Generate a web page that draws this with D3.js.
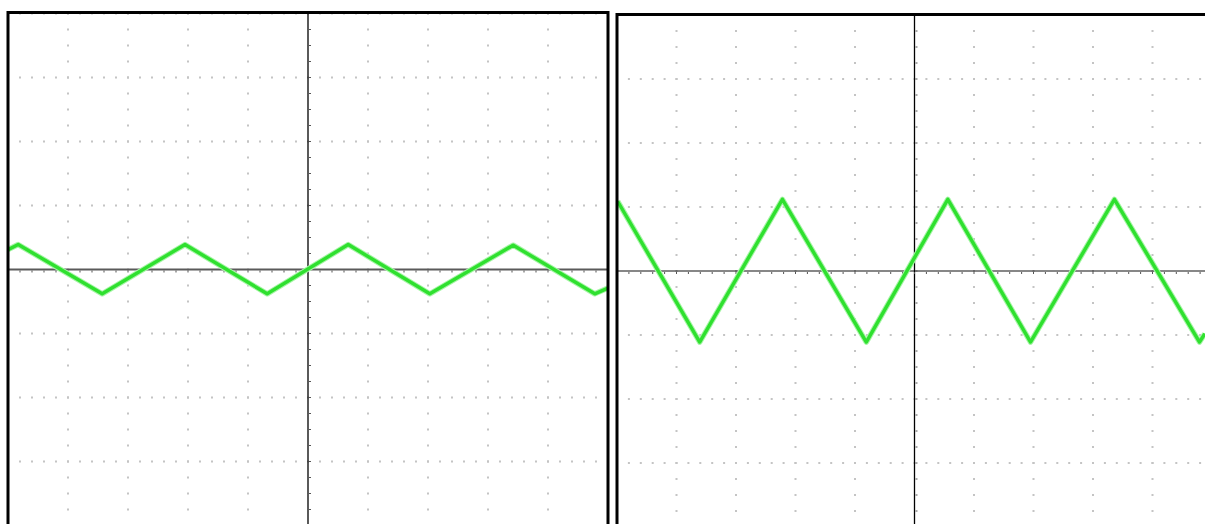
<!DOCTYPE html>
<html>
<head>
<meta charset="utf-8">
<script src="https://cdn.jsdelivr.net/npm/d3@7"></script>
<style>
  html, body { margin: 0; padding: 0; background: #fff; }
  svg { display: block; }
</style>
</head>
<body>
<div id="scope"></div>
<script>
// waveform vertices (time in divisions, amplitude in divisions)
const leftTime = [-5.0, -4.83, -3.43, -2.05, -0.68, 0.67, 2.03, 3.42, 4.78, 5.0];
const leftVolt = [0.31, 0.39, -0.38, 0.39, -0.38, 0.39, -0.38, 0.38, -0.38, -0.29];
const rightTime = [-4.99, -3.61, -2.22, -0.81, 0.56, 1.95, 3.36, 4.79, 4.88];
const rightVolt = [1.09, -1.11, 1.12, -1.11, 1.12, -1.11, 1.12, -1.11, -0.98];

// screen layout
const xDivs = [-5, -4, -3, -2, -1, 0, 1, 2, 3, 4, 5];
const yDivs = [-4, -3, -2, -1, 0, 1, 2, 3, 4];
const xMinor = 5;
const yMinor = 4;

const W = 1205, H = 524;
const svg = d3.select('#scope').append('svg').attr('width', W).attr('height', H);

const panels = [
  { id: 'a', x0: 8, x1: 608, yMid: 269.5, top: 12.5, time: leftTime, volt: leftVolt, axisColor: '#5a5a5a', axisW: 2 },
  { id: 'b', x0: 617, x1: 1212, yMid: 271, top: 14.5, time: rightTime, volt: rightVolt, axisColor: '#111', axisW: 1.2 }
];

panels.forEach(p => {
  const x = d3.scaleLinear().domain([-5, 5]).range([p.x0, p.x1]);
  const y = d3.scaleLinear().domain([-4, 4]).range([p.yMid + 256, p.yMid - 256]);
  const g = svg.append('g').attr('class', 'panel-' + p.id);

  g.append('clipPath').attr('id', 'clip-' + p.id)
    .append('rect')
    .attr('x', p.x0).attr('y', p.top)
    .attr('width', p.x1 - p.x0).attr('height', H - p.top + 20);

  const grid = g.append('g').attr('class', 'grid').attr('clip-path', `url(#clip-${p.id})`);

  // dotted horizontal rows
  const xFine = d3.range(-5, 5.001, 1 / xMinor);
  yDivs.filter(v => v !== 0).forEach(v => {
    grid.selectAll(null).data(xFine).enter().append('rect')
      .attr('x', d => x(d) - 1).attr('y', y(v) - 1)
      .attr('width', 2).attr('height', 2)
      .attr('fill', '#c4c4c4');
  });
  // dotted vertical columns
  const yFine = d3.range(-4, 4.001, 1 / yMinor);
  xDivs.filter(v => v !== 0).forEach(v => {
    grid.selectAll(null).data(yFine).enter().append('rect')
      .attr('x', x(v) - 1).attr('y', d => y(d) - 1)
      .attr('width', 2).attr('height', 2)
      .attr('fill', '#c4c4c4');
  });

  // centre axes with minor ticks
  grid.append('line')
    .attr('x1', p.x0).attr('x2', p.x1)
    .attr('y1', y(0)).attr('y2', y(0))
    .attr('stroke', p.axisColor).attr('stroke-width', p.axisW);
  grid.append('line')
    .attr('x1', x(0)).attr('x2', x(0))
    .attr('y1', p.top).attr('y2', H + 10)
    .attr('stroke', '#000').attr('stroke-width', 1.3);
  grid.selectAll('.xt').data(xFine).enter().append('rect')
    .attr('x', d => x(d) - 0.5).attr('y', y(0) + 1)
    .attr('width', 1).attr('height', 2).attr('fill', '#555');
  grid.selectAll('.yt').data(yFine).enter().append('rect')
    .attr('x', x(0) + 1).attr('y', d => y(d) - 0.5)
    .attr('width', 2).attr('height', 1).attr('fill', '#555');

  // trace
  const pts = p.time.map((t, i) => [t, p.volt[i]]);
  const line = d3.line().x(d => x(d[0])).y(d => y(d[1]));
  const trace = g.append('g').attr('clip-path', `url(#clip-${p.id})`);
  trace.append('path').datum(pts)
    .attr('d', line)
    .style('fill', 'none')
    .style('stroke', '#a8f5a8')
    .style('stroke-width', 5.5)
    .style('stroke-linejoin', 'round');
  trace.append('path').datum(pts)
    .attr('d', line)
    .style('fill', 'none')
    .style('stroke', '#2fe02f')
    .style('stroke-width', 3.4)
    .style('stroke-linejoin', 'round');

  // screen frame
  g.append('path')
    .attr('d', `M${p.x0},${H + 10}V${p.top}H${p.x1}V${H + 10}`)
    .style('fill', 'none')
    .style('stroke', '#000')
    .style('stroke-width', 3);
});
</script>
</body>
</html>
